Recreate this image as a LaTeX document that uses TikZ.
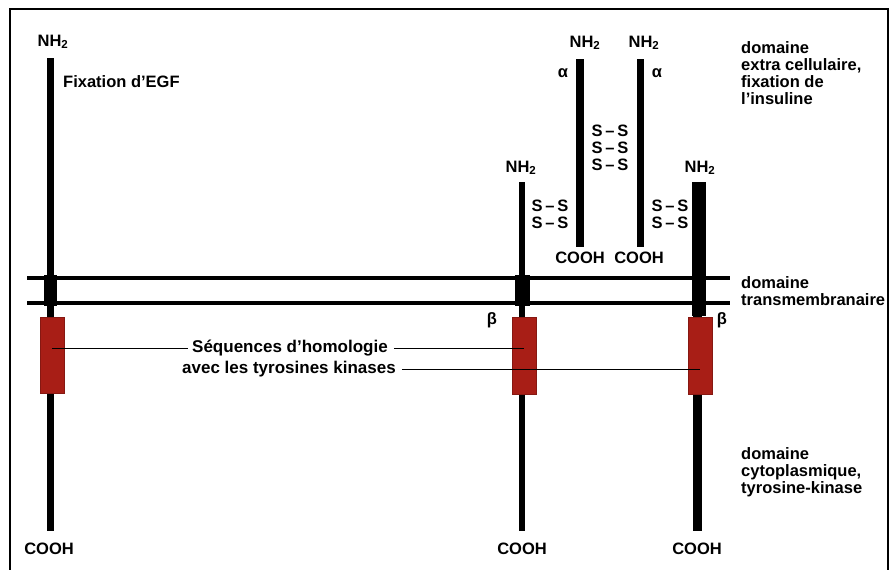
\documentclass[tikz,border=0pt]{standalone}
\usepackage{fontspec}
\setmainfont{Liberation Sans}
\begin{document}
\begin{tikzpicture}[x=1pt,y=-1pt,
  lbl/.style={inner sep=0pt, font=\fontsize{16.5}{17}\selectfont\bfseries},
  seqlbl/.style={lbl, anchor=west, font=\fontsize{17}{17}\selectfont\bfseries},
  side/.style={lbl, anchor=north west, align=left},
  chain/.style={fill=black, draw=none},
  kinase/.style={fill=kred, draw=kred!80!black, line width=0.6pt, inner sep=0pt},
  membrane/.style={line width=3.5pt},
  pointer/.style={line width=1pt}]
\definecolor{kred}{RGB}{168,30,22}
\useasboundingbox (0,0) rectangle (895,570);
% frame
\draw[line width=2pt] (10,585) -- (10,9) -- (888,9) -- (888,585);
% membrane
\draw[membrane] (27,278) coordinate (m1l) -- (730,278) coordinate (m1r);
\draw[membrane] (27,303) coordinate (m2l) -- (730,303) coordinate (m2r);
% ---- EGF receptor (left)
\fill[chain] (47,58) rectangle (54,531);
\fill[chain] (44,275) rectangle (57,306);
\node[kinase, minimum width=24pt, minimum height=76pt] (k1) at (52,355) {};
\node[lbl] (nh1) at (53,42) {NH\textsubscript{2}};
\node[lbl, anchor=west] (egf) at (63,82) {Fixation d’EGF};
\node[lbl] (c1) at (49,549) {COOH};
% ---- insulin receptor beta (middle)
\fill[chain] (519,182) rectangle (525,531);
\fill[chain] (515,275) rectangle (530,306);
\node[kinase, minimum width=24pt, minimum height=77pt] (k2) at (524,355.5) {};
\node[lbl] (nh2) at (521,168) {NH\textsubscript{2}};
\node[lbl] (c2) at (522,549) {COOH};
\node[lbl] (b2) at (492,320) {β};
% ---- beta (right)
\fill[chain] (692,182) rectangle (706,316);
\fill[chain] (693,316) rectangle (702,531);
\node[kinase, minimum width=24pt, minimum height=77pt] (k3) at (700,355.5) {};
\node[lbl] (nh3) at (700,168) {NH\textsubscript{2}};
\node[lbl] (c3) at (697,549) {COOH};
\node[lbl] (b3) at (722,320) {β};
% ---- alpha chains
\fill[chain] (576,59) rectangle (584,247);
\fill[chain] (637,59) rectangle (644,247);
\node[lbl] (nha) at (585,43) {NH\textsubscript{2}};
\node[lbl] (nhb) at (644,43) {NH\textsubscript{2}};
\node[lbl] (aa) at (563,73) {α};
\node[lbl] (ab) at (657,73) {α};
\node[lbl] (ca) at (580,258) {COOH};
\node[lbl] (cb) at (639,258) {COOH};
% disulfide bridges
\node[lbl, align=center] (ss1) at (610,148) {S\,–\,S\\S\,–\,S\\S\,–\,S};
\node[lbl, align=center] (ss2) at (550,214) {S\,–\,S\\S\,–\,S};
\node[lbl, align=center] (ss3) at (670,214) {S\,–\,S\\S\,–\,S};
% kinase labels
\node[seqlbl] (seq1) at (192,348) {Séquences d’homologie};
\node[seqlbl] (seq2) at (182,369) {avec les tyrosines kinases};
\draw[pointer] (k1.center |- seq1.west) -- ([xshift=-4pt]seq1.west);
\draw[pointer] ([xshift=6pt]seq1.east) -- (k2.center |- seq1.east);
\draw[pointer] ([xshift=6pt]seq2.east) -- (k3.center |- seq2.east);
% side labels
\node[side] (d1) at (741,41) {domaine\\extra cellulaire,\\fixation de\\l’insuline};
\node[side] (d2) at (741,276) {domaine\\transmembranaire};
\node[side] (d3) at (741,447) {domaine\\cytoplasmique,\\tyrosine-kinase};
\end{tikzpicture}
\end{document}
